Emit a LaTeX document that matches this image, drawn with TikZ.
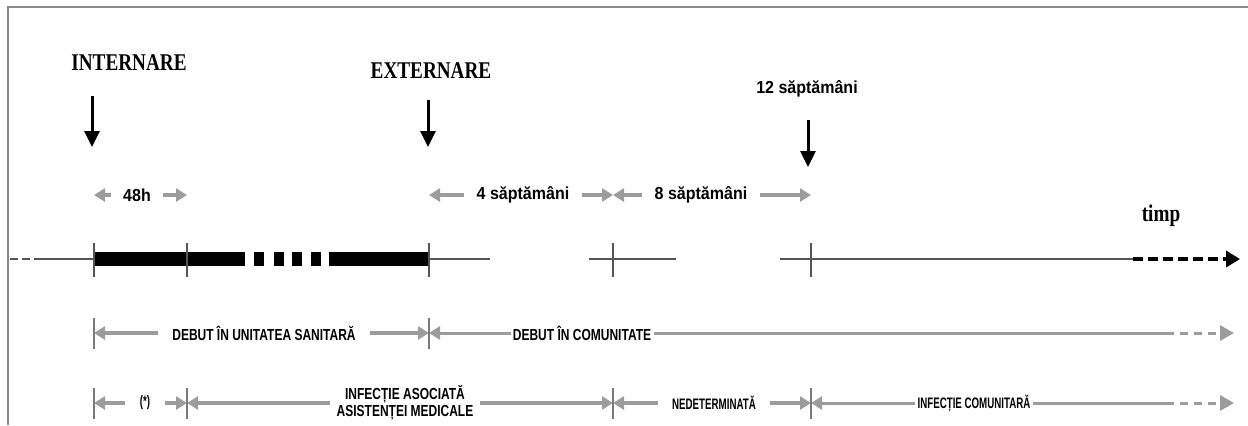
\documentclass[tikz,border=0pt]{standalone}
\usepackage{fontspec}
\setmainfont{Liberation Serif}
\newfontfamily\ttlfont[FakeStretch=0.8]{Liberation Serif}
\newfontfamily\topfont[FakeStretch=0.92]{Liberation Sans}
\newfontfamily\lblfont[FakeStretch=0.75]{Liberation Sans}
\newfontfamily\lblsfont[FakeStretch=0.64]{Liberation Sans}
\usepackage{tikz}
\usetikzlibrary{arrows.meta}
\usetikzlibrary{calc}

\definecolor{arrowgray}{HTML}{9C9C9C}
\definecolor{tickgray}{HTML}{7A7A7A}
\definecolor{linegray}{HTML}{555555}
\definecolor{framegray}{HTML}{8A8A8A}

\begin{document}
\begin{tikzpicture}[x=0.5pt, y=-0.5pt,
	ttl/.style={font=\ttlfont\bfseries\fontsize{12}{14}\selectfont, inner sep=0pt},
	toplbl/.style={font=\topfont\bfseries\fontsize{8.7}{10}\selectfont, inner ysep=0pt, inner xsep=6pt},
	lbl/.style={font=\lblfont\bfseries\fontsize{8}{8.5}\selectfont, inner ysep=0pt, inner xsep=7pt, align=center},
	lbls/.style={font=\lblsfont\bfseries\fontsize{7.6}{8}\selectfont, inner ysep=0pt, inner xsep=7pt},
	downarrow/.style={-{Triangle[length=8pt,width=7.5pt]}, line width=1.5pt, black},
	garrow/.style={-{Triangle[length=5.5pt,width=6.5pt]}, line width=2.2pt, arrowgray},
	gline/.style={line width=1.5pt, arrowgray},
	gdash/.style={line width=1.5pt, arrowgray, dash pattern=on 4pt off 3pt, -{Triangle[length=7pt,width=7.5pt]}},
	gtick/.style={line width=1pt, tickgray},
	tline/.style={line width=1.2pt, linegray},
	ttick/.style={line width=1pt, linegray},
	bar/.style={line width=7pt, black}]
	\useasboundingbox (0,0) rectangle (1248,425);
	\draw[framegray, line width=0.8pt] (8,425) -- (8,7) -- (1248,7);

	% titles and down arrows
	\node[ttl] (intern) at (129,63) {INTERNARE};
	\node[ttl] (extern) at (431,71) {EXTERNARE};
	\node[toplbl] (w12) at (807,89) {12 săptămâni};
	\node[ttl] (timp) at (1161,216) {timp};
	\coordinate (inTop) at (92,96);   \coordinate (inBot) at (92,147);
	\coordinate (exTop) at (428,100); \coordinate (exBot) at (428,147);
	\coordinate (wTop) at (808,120);  \coordinate (wBot) at (808,167);
	\draw[downarrow] (inTop) -- (inBot);
	\draw[downarrow] (exTop) -- (exBot);
	\draw[downarrow] (wTop) -- (wBot);

	% time line
	\coordinate (tA) at (94,259);
	\coordinate (tB) at (187,259);
	\coordinate (tC) at (429,259);
	\coordinate (tD) at (613,259);
	\coordinate (tE) at (811,259);
	\coordinate (tS) at (10,259);  \coordinate (tS2) at (34,259);
	\coordinate (bar1) at (245,259); \coordinate (bar2) at (329,259);
	\coordinate (seg1) at (490,259);
	\coordinate (seg2a) at (589,259); \coordinate (seg2b) at (676,259);
	\coordinate (seg3) at (780,259);
	\coordinate (tEnd1) at (1133,259); \coordinate (tEnd2) at (1240,259);
	\draw[tline, dash pattern=on 4pt off 2pt] (tS) -- (tS2);
	\draw[tline] (tS2) -- (tA);
	\draw[bar] (tA) -- (bar1);
	\foreach \x in {254,274,292,311}
		\fill[black] (\x,252) rectangle ++(10,14);
	\draw[bar] (bar2) -- (tC);
	\draw[tline] (tC) -- (seg1);
	\draw[tline] (seg2a) -- (seg2b);
	\draw[tline] (seg3) -- (tEnd1);
	\draw[line width=2pt, black, dash pattern=on 5pt off 2.5pt, -{Triangle[length=7pt,width=8pt]}] (tEnd1) -- (tEnd2);
	\foreach \t in {tA,tB,tC,tD,tE}
		\draw[ttick] ($(\t)+(0,-16)$) -- ++(0,34);

	% first row
	\node[toplbl] (h48) at (137,195) {48h};
	\node[toplbl] (w4) at (523,195) {4 săptămâni};
	\node[toplbl] (w8) at (701,195) {8 săptămâni};
	\path[garrow]
	(h48) edge (tA |- h48)
	edge (tB |- h48)
	(w4) edge (tC |- w4)
	edge (tD |- w4)
	(w8) edge (tD |- w8)
	edge (tE |- w8)
	;

	% second row
	\node[lbl] (dun) at (264,333) {DEBUT ÎN UNITATEA SANITARĂ};
	\node[lbl, inner xsep=1pt] (dcom) at (582,333) {DEBUT ÎN COMUNITATE};
	\coordinate (r2a) at (1166,333); \coordinate (r2b) at (1234,333);
	\path[garrow]
	(dun) edge (tA |- dun)
	edge (tC |- dun)
	;
	\draw[gline, -{Triangle[length=5.5pt,width=6.5pt]}] (dcom) -- (tC |- dcom);
	\draw[gline] (dcom) -- (r2a);
	\draw[gdash] (r2a) -- (r2b);

	% third row
	\node[lbls] (star) at (145,403) {(*)};
	\node[lbl, inner xsep=3pt] (iaam) at (405,403) {INFECȚIE ASOCIATĂ\\ASISTENȚEI MEDICALE};
	\node[lbls] (nedet) at (714,403) {NEDETERMINATĂ};
	\node[lbls, inner xsep=1pt] (icom) at (974,403) {INFECȚIE COMUNITARĂ};
	\coordinate (r3a) at (1166,403); \coordinate (r3b) at (1234,403);
	\path[garrow]
	(star) edge (tA |- star)
	edge (tB |- star)
	(iaam) edge (tB |- iaam)
	edge (tD |- iaam)
	(nedet) edge (tD |- nedet)
	edge (tE |- nedet)
	;
	\draw[gline, -{Triangle[length=5.5pt,width=6.5pt]}] (icom) -- (tE |- icom);
	\draw[gline] (icom) -- (r3a);
	\draw[gdash] (r3a) -- (r3b);

	% ticks of the rows
	\foreach \t in {tA,tC}
		\draw[gtick] ($(\t |- dun)+(0,-15)$) -- ++(0,31);
	\foreach \t in {tA,tB,tD,tE}
		\draw[gtick] ($(\t |- nedet)+(0,-15)$) -- ++(0,31);
\end{tikzpicture}
\end{document}
